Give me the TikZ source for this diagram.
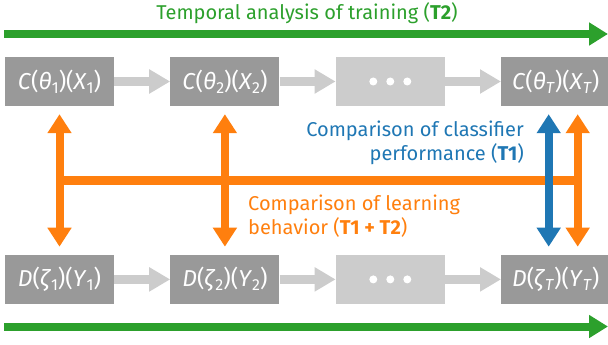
\documentclass[tikz,border=0pt]{standalone}
\usepackage{fontspec}
\setmainfont{Fira Sans}
\usetikzlibrary{arrows.meta,calc,positioning}

\definecolor{tgreen}{HTML}{2CA02C}
\definecolor{torange}{HTML}{FF7F0E}
\definecolor{tblue}{HTML}{1F77B4}
\definecolor{boxgrey}{HTML}{999999}
\definecolor{lightgrey}{HTML}{CCCCCC}

\newcommand{\sub}[1]{\raisebox{-0.35ex}{\fontsize{16}{16}\selectfont #1}}
\newcommand{\model}[4]{\textit{#1}(\textit{#2}\sub{#4})(\textit{#3}\sub{#4})}

\begin{document}
\begin{tikzpicture}[x=1pt,y=-1pt,
  stage/.style={fill=boxgrey,text=white,minimum width=109pt,minimum height=49pt,inner sep=0pt,font=\fontsize{23}{23}\selectfont},
  dotsbox/.style={stage,fill=lightgrey},
  steparrow/.style={draw=lightgrey,line width=9pt,-{Triangle[length=21pt,width=23pt]}},
  timearrow/.style={draw=tgreen,line width=8pt,-{Triangle[length=19pt,width=22pt]}},
  cmparrow/.style={line width=8pt,{Triangle[length=19pt,width=23pt]}-{Triangle[length=19pt,width=23pt]}},
  note/.style={font=\fontsize{20}{24}\selectfont,inner sep=0pt}]
\useasboundingbox (0,0) rectangle (608,345);

% Stage boxes, top row (classifier) and bottom row (data).
\node[stage] (c1) at (59.5,81.5) {\model{C}{θ}{X}{1}};
\node[stage,right=56pt of c1] (c2) {\model{C}{θ}{X}{2}};
\node[dotsbox,right=56pt of c2] (c3) {};
\node[stage,right=56pt of c3] (cT) {\model{C}{θ}{X}{\textit{T}}};

\node[stage,below=148.5pt of c1] (d1) {\model{D}{ζ}{Y}{1}};
\node[stage,right=56pt of d1] (d2) {\model{D}{ζ}{Y}{2}};
\node[dotsbox,right=56pt of d2] (d3) {};
\node[stage,right=56pt of d3] (dT) {\model{D}{ζ}{Y}{\textit{T}}};

% Dots in the middle boxes.
\foreach \blk in {c3,d3}
  \foreach \dx in {-17,0,17}
    \fill[white] ($(\blk)+(\dx,0)$) circle (4);

% Steps between the boxes.
\draw[steparrow] (c1) -- (c2);
\draw[steparrow] (c2) -- (c3);
\draw[steparrow] (c3) -- (cT);
\draw[steparrow] (d1) -- (d2);
\draw[steparrow] (d2) -- (d3);
\draw[steparrow] (d3) -- (dT);

% Temporal arrows.
\coordinate (t0) at (4,34);
\coordinate (t1) at (608,34);
\coordinate (b0) at (4,326.5);
\coordinate (b1) at (608,326.5);
\draw[timearrow] (t0) -- (t1);
\draw[timearrow] (b0) -- (b1);
\node[note,text=tgreen] (title) at (307,13) {Temporal analysis of training (\textbf{T2})};

% Comparison arrows.
\coordinate (hl) at ($(c1.south)!.5!(d1.north)$);
\coordinate (hr) at ($(cT.south)!.5!(dT.north)+(22,0)$);
\draw[torange,line width=9pt] (hl) -- (hr);
\draw[cmparrow,torange] ([yshift=-8pt]c1.south) -- ([yshift=8pt]d1.north);
\draw[cmparrow,torange] ([yshift=-8pt]c2.south) -- ([yshift=8pt]d2.north);
\draw[cmparrow,torange] ([xshift=22pt,yshift=-8pt]cT.south) -- ([xshift=22pt,yshift=8pt]dT.north);
\draw[cmparrow,tblue] ([xshift=-7pt,yshift=-8pt]cT.south) -- ([xshift=-7pt,yshift=8pt]dT.north);

\node[note,text=tblue,align=right,anchor=east] (perf) at (524,143) {Comparison of classifier\\performance (\textbf{T1})};
\node[note,text=torange,align=left,anchor=west] (learn) at (248,216) {Comparison of learning\\behavior (\textbf{T1 + T2})};

\end{tikzpicture}
\end{document}
